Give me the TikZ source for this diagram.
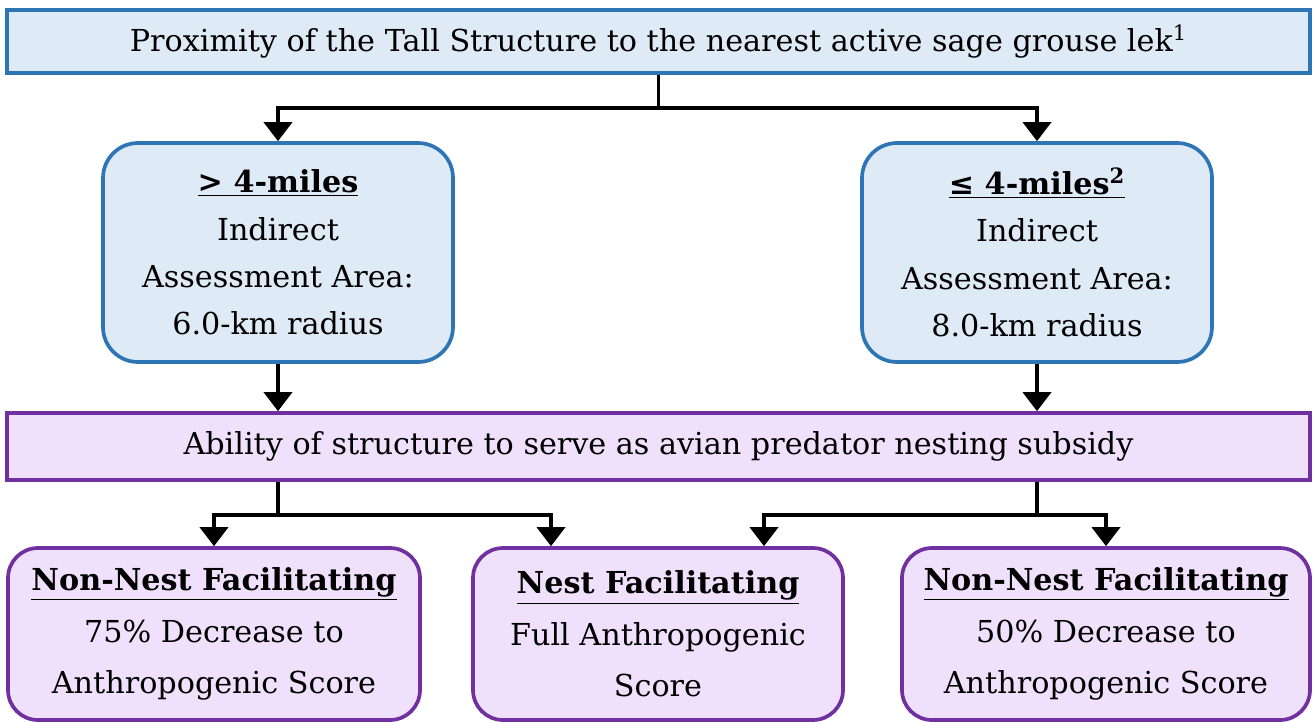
\documentclass[tikz,border=0pt]{standalone}
\usepackage{fontspec}
\setmainfont{DejaVu Serif}
\usetikzlibrary{arrows.meta,positioning}
\definecolor{blueline}{RGB}{46,117,182}
\definecolor{bluefill}{RGB}{222,234,246}
\definecolor{purpline}{RGB}{112,48,160}
\definecolor{purpfill}{RGB}{239,224,251}
\tikzset{
  bar/.style={draw,line width=2.1pt,minimum width=26.06cm,inner sep=0pt,font=\fontsize{17.2}{20}\selectfont},
  bluebar/.style={bar,draw=blueline,fill=bluefill,minimum height=1.26cm},
  purpbar/.style={bar,draw=purpline,fill=purpfill,minimum height=1.34cm},
  areabox/.style={draw=blueline,fill=bluefill,line width=2.1pt,rounded corners=0.7cm,
    minimum width=7cm,minimum height=4.38cm,align=center,inner sep=0pt,
    font=\fontsize{17.2}{27}\selectfont},
  scorebox/.style={draw=purpline,fill=purpfill,line width=2.1pt,rounded corners=0.6cm,
    minimum height=3.44cm,align=center,inner sep=0pt,
    font=\fontsize{17.2}{29.3}\selectfont},
  arr/.style={line width=2.2pt,-{Triangle[width=0.56cm,length=0.38cm]}},
  link/.style={line width=2.2pt}
}
\begin{document}
\begin{tikzpicture}
\useasboundingbox (0,0) rectangle (26.26,-14.42);
% top question
\node[bluebar] (prox) at (13.17,-0.83) {Proximity of the Tall Structure to the nearest active sage grouse lek\textsuperscript{1}};
% distance boxes
\node[areabox] (far) at (5.56,-5.05) {\underline{\textbf{> 4-miles}}\\Indirect\\Assessment Area:\\6.0-km radius};
\node[areabox] (near) at (20.74,-5.05) {\underline{\textbf{≤ 4-miles\textsuperscript{2}}}\\Indirect\\Assessment Area:\\8.0-km radius};
% second question
\node[purpbar] (ability) at (13.17,-8.93) {Ability of structure to serve as avian predator nesting subsidy};
% outcome boxes
\node[scorebox,minimum width=8.24cm] (nonleft) at (4.28,-12.68) {\underline{\textbf{Non-Nest Facilitating}}\\75\% Decrease to\\Anthropogenic Score};
\node[scorebox,minimum width=7.4cm] (nest) at (13.16,-12.68) {\underline{\textbf{Nest Facilitating}}\\Full Anthropogenic\\Score};
\node[scorebox,minimum width=8.16cm] (nonright) at (22.12,-12.68) {\underline{\textbf{Non-Nest Facilitating}}\\50\% Decrease to\\Anthropogenic Score};
% connectors
\coordinate (fork) at (prox.south |- 0,-2.16);
\draw[link] (prox.south) -- (fork);
\draw[arr] (fork) -| (far.north);
\draw[arr] (fork) -| (near.north);
\draw[arr] (far.south) -- (far.south |- ability.north);
\draw[arr] (near.south) -- (near.south |- ability.north);
\coordinate (forkl) at (far.south |- 0,-10.3);
\coordinate (forkr) at (near.south |- 0,-10.3);
\draw[link] (far.south |- ability.south) -- (forkl);
\draw[link] (near.south |- ability.south) -- (forkr);
\draw[arr] (forkl) -| (nonleft.north);
\draw[arr] (forkl) -| ([xshift=-2.14cm]nest.north);
\draw[arr] (forkr) -| ([xshift=2.12cm]nest.north);
\draw[arr] (forkr) -| (nonright.north);
\end{tikzpicture}
\end{document}
